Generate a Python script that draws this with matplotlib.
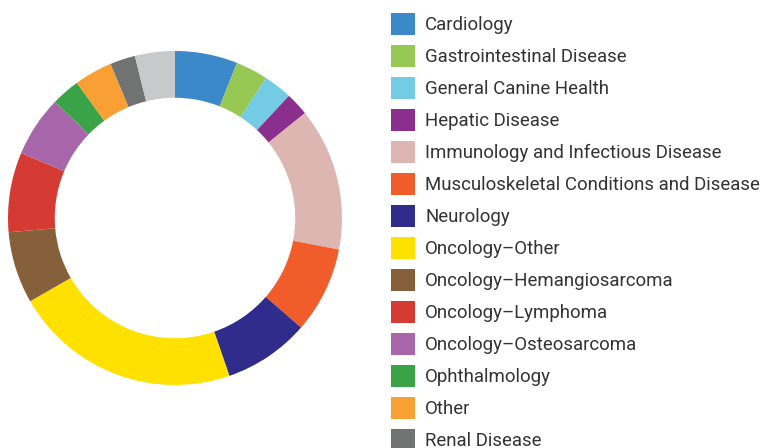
import matplotlib
matplotlib.use('Agg')
import matplotlib.pyplot as plt
from matplotlib.patches import Patch

# Slice sizes (degrees of arc read from the ring, clockwise from 12 o'clock)
categories = [
    'Cardiology', 'Gastrointestinal Disease', 'General Canine Health',
    'Hepatic Disease', 'Immunology and Infectious Disease',
    'Musculoskeletal Conditions and Disease', 'Neurology',
    'Oncology\u2013Other', 'Oncology\u2013Hemangiosarcoma',
    'Oncology\u2013Lymphoma', 'Oncology\u2013Osteosarcoma',
    'Ophthalmology', 'Other', 'Renal Disease', 'Respiratory Disease',
]
values = [21.8, 11.2, 10.0, 8.1, 49.8, 30.1, 30.0, 79.1, 25.0, 27.8,
          21.2, 9.9, 13.3, 8.8, 13.9]
colors = ['#3B89C9', '#96C853', '#74CBE4', '#8B2F8E', '#DDB6B1',
          '#F15D2A', '#302C8B', '#FFE100', '#85603A', '#D53A33',
          '#A866AA', '#3AA348', '#F9A034', '#717372', '#C8C9CA']

plt.rcParams['font.family'] = ['Roboto', 'DejaVu Sans']

W, H = 773, 448
fig = plt.figure(figsize=(W / 100, H / 100), dpi=100)

# donut: centre (175, 218) px, outer radius 167 px
cx, cy, r = 175, 218, 167
ax = fig.add_axes([(cx - r) / W, (H - cy - r) / H, 2 * r / W, 2 * r / H])
ax.pie(values, colors=colors, startangle=90, counterclock=False, radius=1,
       wedgeprops=dict(width=0.28, linewidth=0))
ax.set_xlim(-1, 1)
ax.set_ylim(-1, 1)
ax.set_aspect('equal')
ax.axis('off')

# legend list runs past the bottom edge, as in the original layout
fs = 13.4
handles = [Patch(facecolor=c, edgecolor='none') for c in colors]
fig.legend(handles, categories, loc='upper left',
           bbox_to_anchor=(391 / W, 1 - 13 / H), frameon=False,
           fontsize=fs, handlelength=1.29, handleheight=1.45,
           handletextpad=0.54, labelspacing=0.53, borderpad=0,
           borderaxespad=0, labelcolor='#333333')

fig.savefig('out.png', dpi=100)
